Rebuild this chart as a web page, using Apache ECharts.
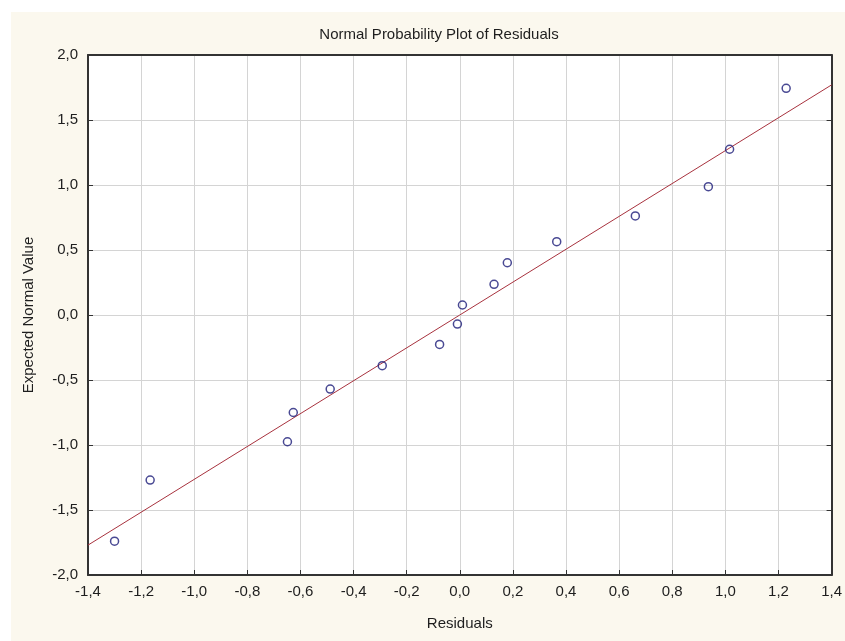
<!DOCTYPE html>
<html>
<head>
<meta charset="utf-8">
<script src="https://cdn.jsdelivr.net/npm/echarts@6/dist/echarts.min.js"></script>
<style>
  html, body { margin: 0; padding: 0; background: #ffffff; }
  #chart { width: 845px; height: 641px; }
</style>
</head>
<body>
<div id="chart"></div>
<script>
// Residuals (x) against their expected normal scores (y)
const residuals = [-1.30, -1.166, -0.649, -0.627, -0.488, -0.292, -0.076, -0.009,
                   0.010, 0.129, 0.179, 0.365, 0.661, 0.936, 1.016, 1.229];
const expectedNormal = [-1.74, -1.27, -0.975, -0.75, -0.57, -0.39, -0.226, -0.07,
                        0.077, 0.236, 0.402, 0.564, 0.762, 0.987, 1.275, 1.744];

// Reference line endpoints across the full residual range
const fitX = [-1.4, 1.4];
const fitY = [-1.77, 1.77];

// Axis ranges and tick steps
const xRange = [-1.4, 1.4], xStep = 0.2;
const yRange = [-2.0, 2.0], yStep = 0.5;

const FONT = '"Liberation Sans", Arial, sans-serif';
const fmt = v => (Math.abs(v) < 1e-9 ? 0 : v).toFixed(1).replace('.', ',');

const axisLine = { show: true, onZero: false, lineStyle: { color: '#333333', width: 2 } };
const axisTick = { show: true, inside: true, length: 5, lineStyle: { color: '#333333', width: 1 } };
const splitLine = { show: true, lineStyle: { color: '#d4d4d4', width: 1 } };

const chart = echarts.init(document.getElementById('chart'), null, { renderer: 'canvas' });
chart.setOption({
  backgroundColor: '#ffffff',
  animation: false,
  graphic: [{
    type: 'rect', z: -10, silent: true,
    shape: { x: 11, y: 12, width: 834, height: 629 },
    style: { fill: '#fbf8ee' }
  }],
  title: {
    text: 'Normal Probability Plot of Residuals',
    left: 434, top: 22, textAlign: 'center',
    textStyle: { fontFamily: FONT, fontSize: 15, fontWeight: 'normal', color: '#1e1e1e' }
  },
  grid: { left: 88, right: 10, top: 55, bottom: 66, show: true, backgroundColor: '#ffffff', borderWidth: 0 },
  xAxis: [{
    type: 'value', min: xRange[0], max: xRange[1], interval: xStep,
    name: 'Residuals', nameLocation: 'middle', nameGap: 41,
    nameTextStyle: { fontFamily: FONT, fontSize: 15, color: '#1e1e1e' },
    axisLine, axisTick, splitLine,
    axisLabel: { fontFamily: FONT, fontSize: 15, color: '#1e1e1e', margin: 9, formatter: fmt }
  }, {
    type: 'value', position: 'top', min: xRange[0], max: xRange[1], interval: xStep,
    axisLine, axisTick: { show: false }, splitLine: { show: false }, axisLabel: { show: false }
  }],
  yAxis: [{
    type: 'value', min: yRange[0], max: yRange[1], interval: yStep,
    name: 'Expected Normal Value', nameLocation: 'middle', nameGap: 52,
    nameTextStyle: { fontFamily: FONT, fontSize: 15, color: '#1e1e1e' },
    axisLine, axisTick, splitLine,
    axisLabel: { fontFamily: FONT, fontSize: 15, color: '#1e1e1e', margin: 10, formatter: fmt }
  }, {
    type: 'value', position: 'right', min: yRange[0], max: yRange[1], interval: yStep,
    axisLine, axisTick, splitLine: { show: false }, axisLabel: { show: false }
  }],
  series: [{
    type: 'line',
    data: fitX.map((x, i) => [x, fitY[i]]),
    showSymbol: false, symbol: 'none',
    lineStyle: { color: '#a8323e', width: 1 },
    z: 2
  }, {
    type: 'scatter',
    data: residuals.map((x, i) => [x, expectedNormal[i]]),
    symbol: 'circle', symbolSize: 8,
    itemStyle: { color: 'rgba(255,255,255,0)', borderColor: '#1c1c78', borderWidth: 1.5 },
    z: 3
  }]
});
</script>
</body>
</html>
